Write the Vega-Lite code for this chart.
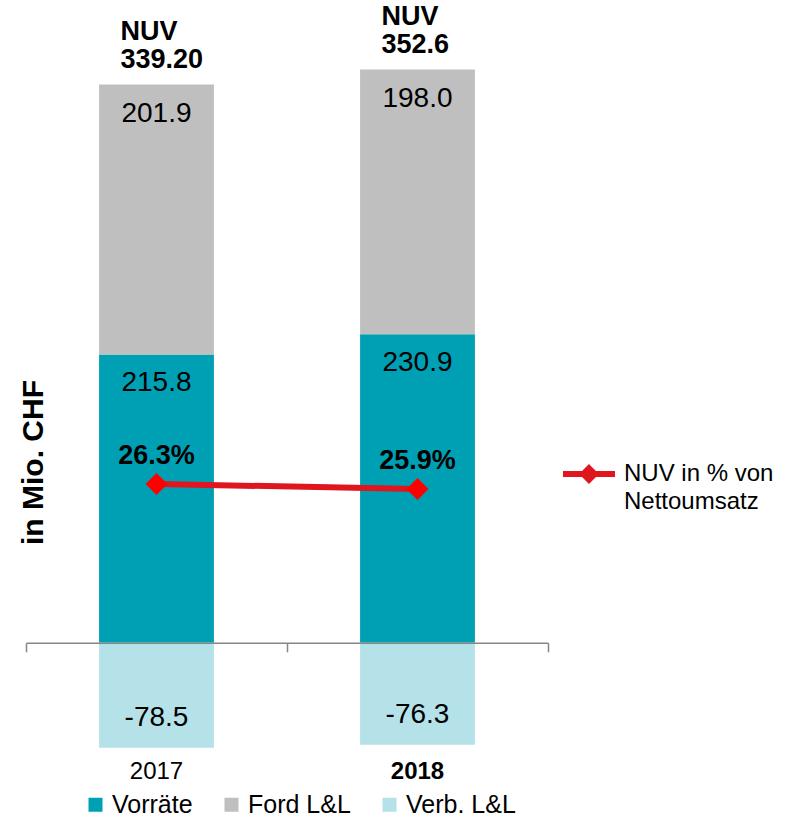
{
  "$schema": "https://vega.github.io/schema/vega-lite/v6.json",
  "width": 522,
  "height": 755,
  "autosize": {"type": "none"},
  "padding": {"left": 26, "top": 0, "right": 246, "bottom": 63},
  "background": "white",
  "config": {
    "font": "Liberation Sans",
    "view": {"stroke": null},
    "axis": {"grid": false},
    "style": {"guide-label": {"lineHeight": 28}}
  },
  "datasets": {
    "nuv": [
      {"year": "2017", "series": "Vorräte", "ord": 1, "value": 215.8, "label": "215.8"},
      {"year": "2017", "series": "Ford L&L", "ord": 2, "value": 201.9, "label": "201.9", "nuv": "NUV\n339.20"},
      {"year": "2017", "series": "Verb. L&L", "ord": 3, "value": -78.5, "label": "-78.5"},
      {"year": "2018", "series": "Vorräte", "ord": 1, "value": 230.9, "label": "230.9"},
      {"year": "2018", "series": "Ford L&L", "ord": 2, "value": 198.0, "label": "198.0", "nuv": "NUV\n352.6"},
      {"year": "2018", "series": "Verb. L&L", "ord": 3, "value": -76.3, "label": "-76.3"}
    ],
    "pct": [
      {"year": "2017", "measure": "NUV in % von Nettoumsatz", "pct": 0.263},
      {"year": "2018", "measure": "NUV in % von Nettoumsatz", "pct": 0.259}
    ]
  },
  "layer": [
    {
      "data": {"name": "nuv"},
      "transform": [
        {"stack": "value", "groupby": ["year"], "sort": [{"field": "ord", "order": "ascending"}], "as": ["v0", "v1"]}
      ],
      "encoding": {
        "x": {
          "field": "year",
          "type": "nominal",
          "scale": {"paddingInner": 0, "paddingOuter": 0},
          "axis": {
            "orient": "bottom",
            "title": null,
            "domain": false,
            "ticks": false,
            "labelAngle": 0,
            "labelFontSize": 24,
            "labelColor": "#000000",
            "labelPadding": 4,
            "labelFontWeight": {"condition": {"test": "datum.label == '2018'", "value": "bold"}, "value": "normal"}
          }
        },
        "y": {
          "field": "v1",
          "type": "quantitative",
          "scale": {"domain": [-84, 481], "nice": false, "zero": false},
          "axis": {
            "orient": "left",
            "title": "in Mio. CHF",
            "labels": false,
            "ticks": false,
            "domain": false,
            "grid": false,
            "titleFontSize": 30,
            "titleFontWeight": "bold",
            "titleColor": "#000000",
            "titleAngle": -90,
            "titleAlign": "center",
            "titleBaseline": "middle",
            "titleX": 7,
            "titleY": 462
          }
        }
      },
      "layer": [
        {
          "mark": {"type": "bar", "width": {"band": 0.44}},
          "encoding": {
            "y2": {"field": "v0"},
            "color": {
              "field": "series",
              "type": "nominal",
              "scale": {"domain": ["Vorräte", "Ford L&L", "Verb. L&L"], "range": ["#00A0B4", "#BFBFBF", "#B4E2E8"]},
              "legend": {
                "orient": "none",
                "direction": "horizontal",
                "legendX": 57,
                "legendY": 792,
                "padding": 0,
                "title": null,
                "symbolType": "square",
                "symbolSize": 196,
                "symbolStrokeWidth": 0,
                "labelFontSize": 25,
                "labelColor": "#000000",
                "labelOffset": 4,
                "columnPadding": 26
              }
            },
            "order": {"field": "ord"}
          }
        },
        {
          "transform": [{"filter": "datum.value > 0"}],
          "mark": {"type": "text", "baseline": "middle", "align": "center", "dy": 29, "fontSize": 28, "color": "#000000"},
          "encoding": {
            "x": {"field": "year", "type": "nominal", "axis": null},
            "text": {"field": "label", "type": "nominal"}
          }
        },
        {
          "transform": [{"filter": "datum.value < 0"}],
          "mark": {"type": "text", "baseline": "middle", "align": "center", "dy": -30, "fontSize": 28, "color": "#000000"},
          "encoding": {
            "x": {
              "field": "year",
              "type": "nominal",
              "axis": {
                "orient": "top",
                "offset": -642.8,
                "title": null,
                "labels": false,
                "tickBand": "extent",
                "tickSize": -9,
                "tickWidth": 1.5,
                "tickColor": "#868686",
                "domainColor": "#868686",
                "domainWidth": 1.5,
                "zindex": 1
              }
            },
            "text": {"field": "label", "type": "nominal"}
          }
        },
        {
          "transform": [{"filter": "datum.series == 'Ford L&L'"}],
          "mark": {"type": "text", "baseline": "bottom", "align": "left", "dx": -36, "dy": -39, "fontSize": 27, "fontWeight": "bold", "lineBreak": "\n", "lineHeight": 28, "color": "#000000"},
          "encoding": {
            "x": {"field": "year", "type": "nominal", "axis": null},
            "text": {"field": "nuv", "type": "nominal"}
          }
        }
      ]
    },
    {
      "data": {"name": "pct"},
      "encoding": {
        "x": {"field": "year", "type": "nominal", "axis": null},
        "y": {
          "field": "pct",
          "type": "quantitative",
          "scale": {"domain": [0.0462, 0.6502], "nice": false, "zero": false},
          "axis": null
        }
      },
      "layer": [
        {
          "mark": {"type": "line", "strokeWidth": 6},
          "encoding": {
            "stroke": {
              "field": "measure",
              "type": "nominal",
              "scale": {"range": ["#E0161E"]},
              "legend": {
                "orient": "none",
                "legendX": 534,
                "legendY": 445,
                "padding": 0,
                "title": null,
                "symbolType": "M-1,0L1,0M0,-0.22L0.22,0L0,0.22L-0.22,0Z",
                "symbolSize": 2704,
                "symbolStrokeWidth": 6,
                "symbolStrokeColor": "#E0161E",
                "symbolFillColor": "#E0161E",
                "labelFontSize": 24,
                "labelColor": "#000000",
                "labelOffset": 6,
                "labelExpr": "['NUV in % von', 'Nettoumsatz']"
              }
            }
          }
        },
        {
          "mark": {"type": "point", "shape": "diamond", "size": 484, "filled": true, "color": "#FF0000", "opacity": 1}
        },
        {
          "mark": {"type": "text", "baseline": "middle", "align": "center", "dy": -28, "fontSize": 27, "fontWeight": "bold", "color": "#000000"},
          "encoding": {
            "text": {"field": "pct", "type": "quantitative", "format": ".1%"}
          }
        }
      ]
    }
  ],
  "resolve": {"scale": {"y": "independent"}}
}
